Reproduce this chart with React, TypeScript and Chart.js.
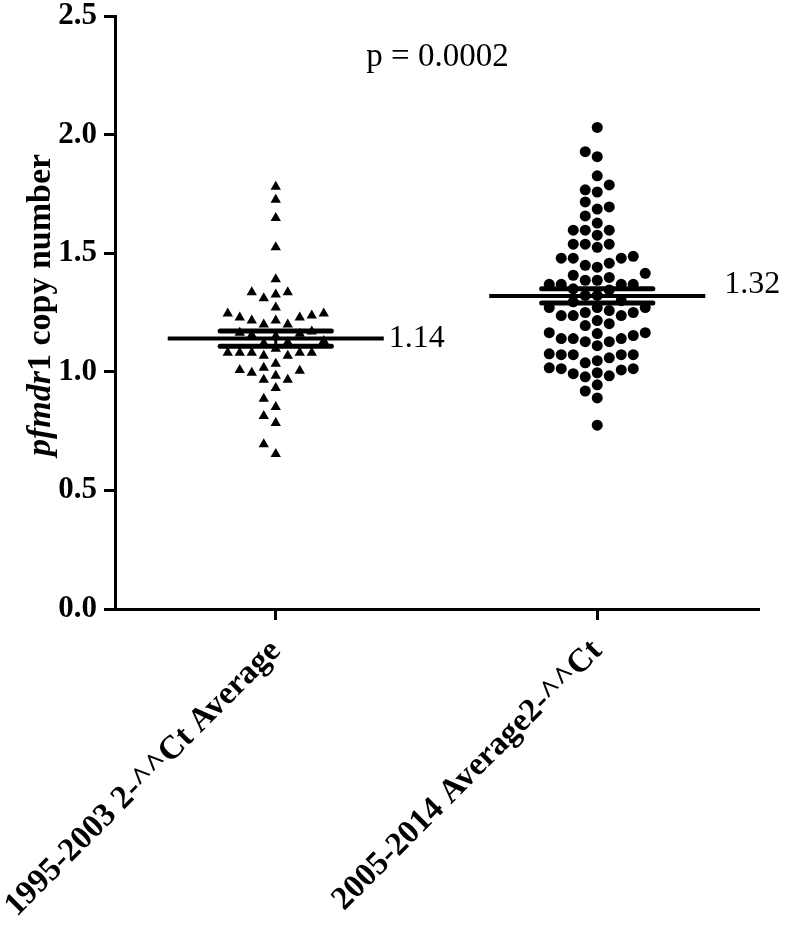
import React, { useEffect, useRef } from "react";
import { Chart, registerables } from "chart.js";

Chart.register(...registerables);

const categories = ["1995-2003 2-^^Ct Average", "2005-2014 Average2-^^Ct"];

const group1995 = [
  1.78, 1.725, 1.648, 1.525, 1.39, 1.335, 1.335, 1.326, 1.31, 1.271, 1.246, 1.246,
  1.237, 1.229, 1.229, 1.216, 1.216, 1.199, 1.199, 1.17, 1.165, 1.16, 1.155, 1.15,
  1.13, 1.125, 1.12, 1.097, 1.08, 1.08, 1.08, 1.08, 1.08, 1.068, 1.068, 1.034, 1.017,
  1.008, 1.004, 0.996, 0.983, 0.966, 0.966, 0.932, 0.886, 0.852, 0.814, 0.784, 0.695,
  0.653,
];

const group2005 = [
  2.03, 1.928, 1.907, 1.826, 1.788, 1.767, 1.758, 1.716, 1.695, 1.686, 1.657, 1.627,
  1.597, 1.597, 1.597, 1.576, 1.538, 1.538, 1.538, 1.525, 1.487, 1.479, 1.479, 1.479,
  1.458, 1.449, 1.441, 1.415, 1.407, 1.398, 1.386, 1.386, 1.369, 1.369, 1.369, 1.369,
  1.35, 1.345, 1.322, 1.322, 1.3, 1.295, 1.271, 1.271, 1.271, 1.258, 1.25, 1.25, 1.237,
  1.237, 1.237, 1.216, 1.203, 1.195, 1.165, 1.165, 1.161, 1.153, 1.14, 1.14, 1.14,
  1.127, 1.127, 1.11, 1.076, 1.072, 1.072, 1.072, 1.072, 1.059, 1.047, 1.038, 1.017,
  1.013, 1.013, 1.008, 0.996, 0.992, 0.983, 0.979, 0.945, 0.919, 0.89, 0.775,
];

const means = [1.14, 1.32];
const sems = [0.032, 0.03];
const meanLabels = ["1.14", "1.32"];
const yTickValues = [0, 0.5, 1, 1.5, 2, 2.5];
const pValueText = "p = 0.0002";
const yTitleItalic = "pfmdr";
const yTitleRest = "1 copy number";

const FAMILY = "'Liberation Serif', 'Times New Roman', serif";
const MEAN_HALF = 0.336;
const SEM_HALF = 0.173;
const COL_PX = 12;
const MIN_DY = 12;

function swarmColumns(values: number[], toPx: (v: number) => number): number[] {
  const order = values.map((_, i) => i).sort((a, b) => values[a] - values[b]);
  const placed: { col: number; py: number }[] = [];
  const cols = new Array(values.length).fill(0);
  for (const i of order) {
    const py = toPx(values[i]);
    for (let k = 0; k < 60; k++) {
      const col = k === 0 ? 0 : k % 2 === 1 ? -Math.ceil(k / 2) : Math.ceil(k / 2);
      if (!placed.some((p) => p.col === col && Math.abs(p.py - py) < MIN_DY)) {
        cols[i] = col;
        placed.push({ col, py });
        break;
      }
    }
  }
  return cols;
}

const annotationPlugin = {
  id: "annotations",
  afterDatasetsDraw(chart: any) {
    const { ctx, chartArea, scales } = chart;
    const xs = scales.x;
    const ys = scales.y;
    ctx.save();
    ctx.fillStyle = "#000";
    // p value
    ctx.font = `33px ${FAMILY}`;
    ctx.textAlign = "center";
    ctx.textBaseline = "middle";
    ctx.fillText(pValueText, (chartArea.left + chartArea.right) / 2 + 1, 57);
    // mean labels
    ctx.font = `32px ${FAMILY}`;
    ctx.textAlign = "left";
    const offs = [
      [5, 0],
      [19, -11],
    ];
    means.forEach((m, i) => {
      const x = xs.getPixelForValue(i + 0.5 + MEAN_HALF) + offs[i][0];
      const y = ys.getPixelForValue(m) + offs[i][1];
      ctx.fillText(meanLabels[i], x, y);
    });
    // y title
    ctx.translate(41, 305);
    ctx.rotate(-Math.PI / 2);
    const fItalic = `italic bold 34px ${FAMILY}`;
    const fBold = `bold 34px ${FAMILY}`;
    ctx.font = fItalic;
    const w1 = ctx.measureText(yTitleItalic).width;
    ctx.font = fBold;
    const w2 = ctx.measureText(yTitleRest).width;
    const start = -(w1 + w2) / 2;
    ctx.textAlign = "left";
    ctx.font = fItalic;
    ctx.fillText(yTitleItalic, start, 0);
    ctx.font = fBold;
    ctx.fillText(yTitleRest, start + w1, 0);
    ctx.restore();
  },
};

export default function App() {
  const ref = useRef<HTMLCanvasElement | null>(null);

  useEffect(() => {
    if (!ref.current) return;
    const lineDs = (pts: { x: number; y: number }[], width: number, cap: string) => ({
      type: "scatter" as const,
      data: pts,
      showLine: true,
      borderColor: "#000",
      backgroundColor: "#000",
      borderWidth: width,
      borderCapStyle: cap,
      pointRadius: 0,
    });
    const lineSets: any[] = [];
    means.forEach((m, i) => {
      const c = i + 0.5;
      lineSets.push(lineDs([{ x: c - MEAN_HALF, y: m }, { x: c + MEAN_HALF, y: m }], 4, "butt"));
      lineSets.push(lineDs([{ x: c - SEM_HALF, y: m + sems[i] }, { x: c + SEM_HALF, y: m + sems[i] }], 5, "round"));
      lineSets.push(lineDs([{ x: c - SEM_HALF, y: m - sems[i] }, { x: c + SEM_HALF, y: m - sems[i] }], 5, "round"));
      lineSets.push(lineDs([{ x: c, y: m - sems[i] }, { x: c, y: m + sems[i] }], 3, "butt"));
    });

    const chart = new Chart(ref.current, {
      type: "scatter",
      data: {
        datasets: [
          ...lineSets,
          {
            data: group1995.map((v) => ({ x: 0.5, y: v })),
            pointStyle: "triangle",
            pointRadius: 6,
            backgroundColor: "#000",
            borderColor: "#000",
            borderWidth: 0,
          },
          {
            data: group2005.map((v) => ({ x: 1.5, y: v })),
            pointStyle: "circle",
            pointRadius: 5.5,
            backgroundColor: "#000",
            borderColor: "#000",
            borderWidth: 0,
          },
        ],
      },
      options: {
        responsive: false,
        animation: false,
        events: [],
        layout: { padding: { top: 16, right: 28, left: 0, bottom: 0 } },
        plugins: { legend: { display: false }, tooltip: { enabled: false } },
        scales: {
          x: {
            type: "linear",
            min: 0,
            max: 2,
            afterBuildTicks: (s: any) => {
              s.ticks = categories.map((_, i) => ({ value: i + 0.5 }));
            },
            afterFit: (s: any) => {
              s.height = 928 - 609;
              s.paddingLeft = 0;
              s.paddingRight = 0;
            },
            ticks: {
              autoSkip: false,
              minRotation: 45,
              maxRotation: 45,
              padding: 12,
              color: "#000",
              font: { family: FAMILY, size: 33, weight: "bold" },
              callback: (_v: any, i: number) => categories[i],
            },
            grid: {
              drawOnChartArea: false,
              drawTicks: true,
              tickLength: 11,
              color: "#000",
              lineWidth: 3,
            },
            border: { display: true, color: "#000", width: 3 },
          },
          y: {
            type: "linear",
            min: 0,
            max: 2.5,
            afterBuildTicks: (s: any) => {
              s.ticks = yTickValues.map((v) => ({ value: v }));
            },
            afterFit: (s: any) => {
              s.width = 115;
              s.paddingTop = 0;
              s.paddingBottom = 0;
            },
            ticks: {
              padding: 7,
              color: "#000",
              font: { family: FAMILY, size: 31, weight: "bold", lineHeight: 1 },
              callback: (v: any) => Number(v).toFixed(1),
            },
            grid: {
              drawOnChartArea: false,
              drawTicks: true,
              tickLength: 11,
              color: "#000",
              lineWidth: 3,
            },
            border: { display: true, color: "#000", width: 3 },
          },
        },
      },
      plugins: [annotationPlugin],
    } as any);

    // beeswarm layout computed from the chart's own scales
    const xs: any = chart.scales.x;
    const ys: any = chart.scales.y;
    const pxPerUnit = xs.getPixelForValue(1) - xs.getPixelForValue(0);
    const groups = [group1995, group2005];
    groups.forEach((vals, g) => {
      const cols = swarmColumns(vals, (v) => ys.getPixelForValue(v));
      const ds = chart.data.datasets[lineSets.length + g];
      ds.data = vals.map((v, i) => ({ x: g + 0.5 + (cols[i] * COL_PX) / pxPerUnit, y: v })) as any;
    });
    chart.update();

    return () => chart.destroy();
  }, []);

  return (
    <div style={{ position: "absolute", left: 0, top: 0, width: 786, height: 928 }}>
      <canvas ref={ref} width={786} height={928} />
    </div>
  );
}
